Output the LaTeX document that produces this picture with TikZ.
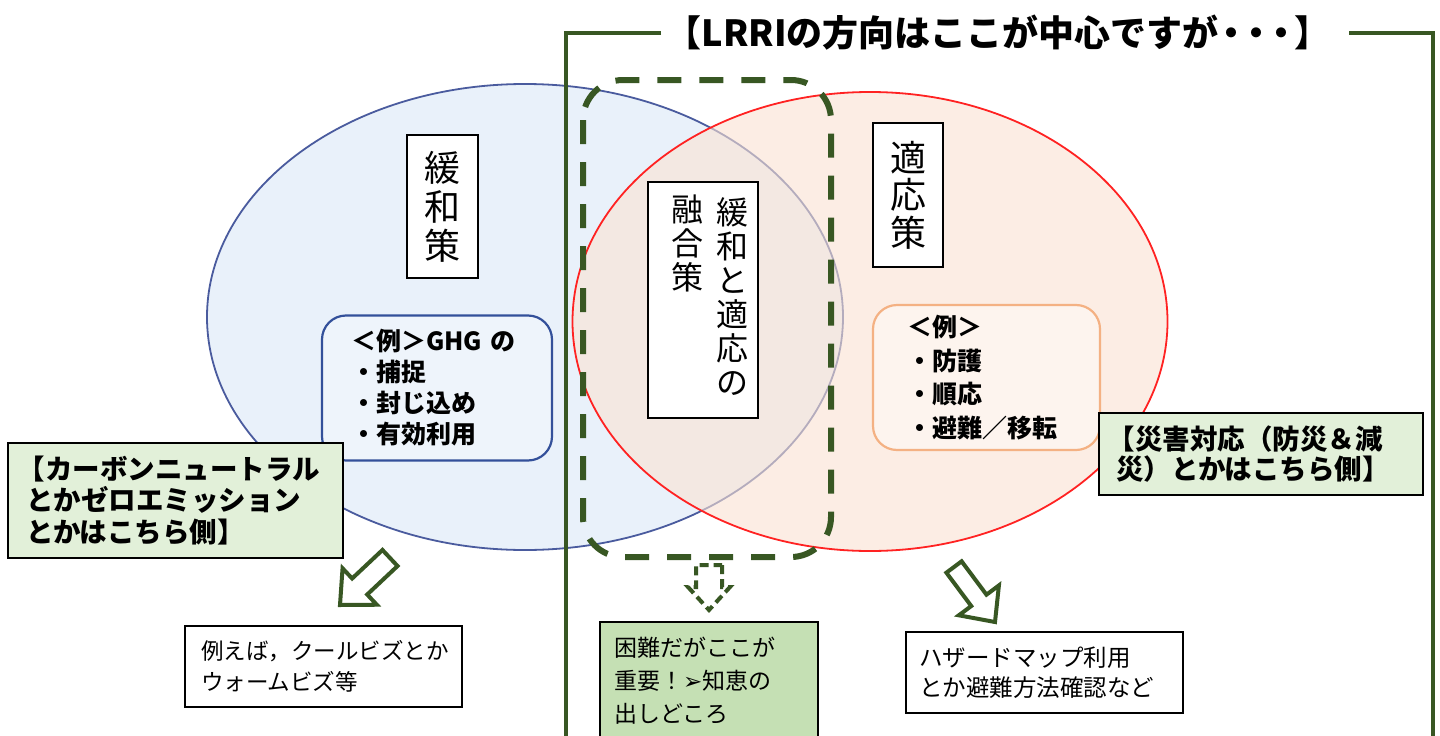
\documentclass[tikz,border=0pt]{standalone}
\usepackage{fontspec}
\setmainfont{Noto Sans CJK JP}
\newfontfamily\dejavu{DejaVu Sans}
\usetikzlibrary{calc}
\definecolor{dkgreen}{HTML}{385723}
\definecolor{lgreen}{HTML}{E2F0D9}
\definecolor{mgreen}{HTML}{C5E0B4}
\definecolor{ellblue}{HTML}{4A5B9E}
\definecolor{lblue}{HTML}{E9F1FA}
\definecolor{peach}{HTML}{FBE2D2}
\definecolor{exblue}{HTML}{33509A}
\definecolor{exbluefill}{HTML}{EEF4FB}
\definecolor{exorange}{HTML}{F4B183}
\definecolor{exorangefill}{HTML}{FDF4EE}
\definecolor{ellred}{HTML}{FF2222}
\newcommand{\blockarrow}[6]{%
  \coordinate (hb) at ($(#3)!#6!(#2)$);
  \draw[#1] ($(#2)!#4!90:(#3)$) -- ($(hb)!#4!90:(#3)$) -- ($(hb)!#5!90:(#3)$) -- (#3)
    -- ($(hb)!#5!-90:(#3)$) -- ($(hb)!#4!-90:(#3)$) -- ($(#2)!#4!-90:(#3)$) -- cycle;}
\begin{document}
\begin{tikzpicture}[x=1pt,y=-1pt,
  vbox/.style={draw=black, line width=1.5, fill=white, inner sep=0, align=center},
  vtext/.style={inner sep=0, align=center},
  exbox/.style={rounded corners=24, line width=2.2, align=left, inner ysep=0,
    font=\bfseries\fontsize{25}{31}\selectfont},
  gbox/.style={draw=black, line width=1.5, fill=lgreen, align=left, inner ysep=0,
    font=\bfseries\fontsize{27.5}{31.5}\selectfont},
  wbox/.style={draw=black, line width=1.5, fill=white, align=left, inner ysep=0,
    font=\fontsize{23}{31}\selectfont},
  frame/.style={draw=dkgreen, line width=4},
  barrow/.style={draw=dkgreen, line width=4, fill=white, line join=miter},
  dbarrow/.style={draw=dkgreen, line width=4, fill=white, dash pattern=on 9 off 5}]
\useasboundingbox (0,0) rectangle (1440,736);
\clip (0,0) rectangle (1440,736);
\fill[white] (0,0) rectangle (1440,736);
% ellipses
\fill[lblue] (525,317) ellipse [x radius=318, y radius=233];
\draw[ellblue, line width=1.8] (525,317) ellipse [x radius=318, y radius=233];
\fill[peach, fill opacity=0.6] (870,321.5) ellipse [x radius=297.5, y radius=229.5];
\draw[ellred, line width=1.8] (870,321.5) ellipse [x radius=297.5, y radius=229.5];
% frame and title
\node[font=\bfseries\fontsize{36}{40}\selectfont, inner sep=0] (title) at (998,33) {【LRRIの方向はここが中心ですが\hspace{-0.15em}・\hspace{-0.3em}・\hspace{-0.3em}・\hspace{-0.15em}】};
\draw[frame] (661,33) -- (566,33) -- (566,760);
\draw[frame] (1349,33) -- (1433,33) -- (1433,760);
% dashed fusion region
\draw[dkgreen, line width=6, dash pattern=on 24 off 18, rounded corners=40] (583,80) rectangle (831,557);
% vertical labels
\node[vbox, minimum width=71, minimum height=143, font=\fontsize{36}{39}\selectfont] (mitig) at (442.5,206.5) {緩\\和\\策};
\node[vbox, minimum width=70, minimum height=144, font=\fontsize{36}{37.5}\selectfont] (adapt) at (908,195) {適\\応\\策};
\node[vbox, minimum width=110, minimum height=236] (fusion) at (703,300) {};
\node[vtext, anchor=north, font=\fontsize{32}{34}\selectfont] (fusionR) at (732,197) {緩\\和\\と\\適\\応\\の};
\node[vtext, anchor=north, font=\fontsize{32}{34}\selectfont] (fusionL) at (687,195) {融\\合\\策};
% example boxes
\node[exbox, draw=exblue, fill=exbluefill, minimum width=230, minimum height=145, inner xsep=29, text width=172] (exL) at (437,388) {＜例＞GHG の\\・捕捉\\・封じ込め\\・有効利用};
\node[exbox, draw=exorange, fill=exorangefill, minimum width=227, minimum height=145, inner xsep=34, text width=159, font=\bfseries\fontsize{25}{33.5}\selectfont] (exR) at (986.5,377.5) {＜例＞\\・防護\\・順応\\・避難／移転};
% green comment boxes
\node[gbox, minimum width=335, minimum height=115, inner xsep=18, text width=299] (cmL) at (175.5,500.5) {\hspace*{-0.3em}【カーボンニュートラル\\とかゼロエミッション\\とかはこちら側】};
\node[gbox, minimum width=324, minimum height=82, inner xsep=17, text width=290, font=\bfseries\fontsize{27.5}{30}\selectfont] (cmR) at (1261,454) {\hspace*{-0.3em}【災害対応（防災＆減\\災）とかはこちら側】};
% bottom boxes
\node[wbox, minimum width=277, minimum height=81, inner xsep=16, text width=245, font=\fontsize{22.5}{31}\selectfont] (bL) at (323.5,666.5) {例えば，クールビズとか\\ウォームビズ等};
\node[wbox, minimum width=277, minimum height=81, inner xsep=13, text width=251, font=\fontsize{23.5}{30}\selectfont] (bR) at (1044.5,672.5) {ハザードマップ利用\\とか避難方法確認など};
\node[wbox, fill=mgreen, minimum width=218, minimum height=118, inner xsep=14, text width=190, font=\fontsize{23}{33}\selectfont] (bM) at (709,681) {困難だがここが\\重要！{\dejavu ➢}知恵の\\出しどころ};
% block arrows
\coordinate (laT) at (390,558);
\coordinate (laH) at (340,605);
\blockarrow{barrow}{laT}{laH}{11pt}{25pt}{27pt}
\coordinate (raT) at (954,567);
\coordinate (raH) at (995,622);
\blockarrow{barrow}{raT}{raH}{9.5pt}{25pt}{27pt}
\coordinate (maT) at (709,565);
\coordinate (maH) at (709,610);
\blockarrow{dbarrow}{maT}{maH}{13pt}{21pt}{23pt}
\end{tikzpicture}
\end{document}
